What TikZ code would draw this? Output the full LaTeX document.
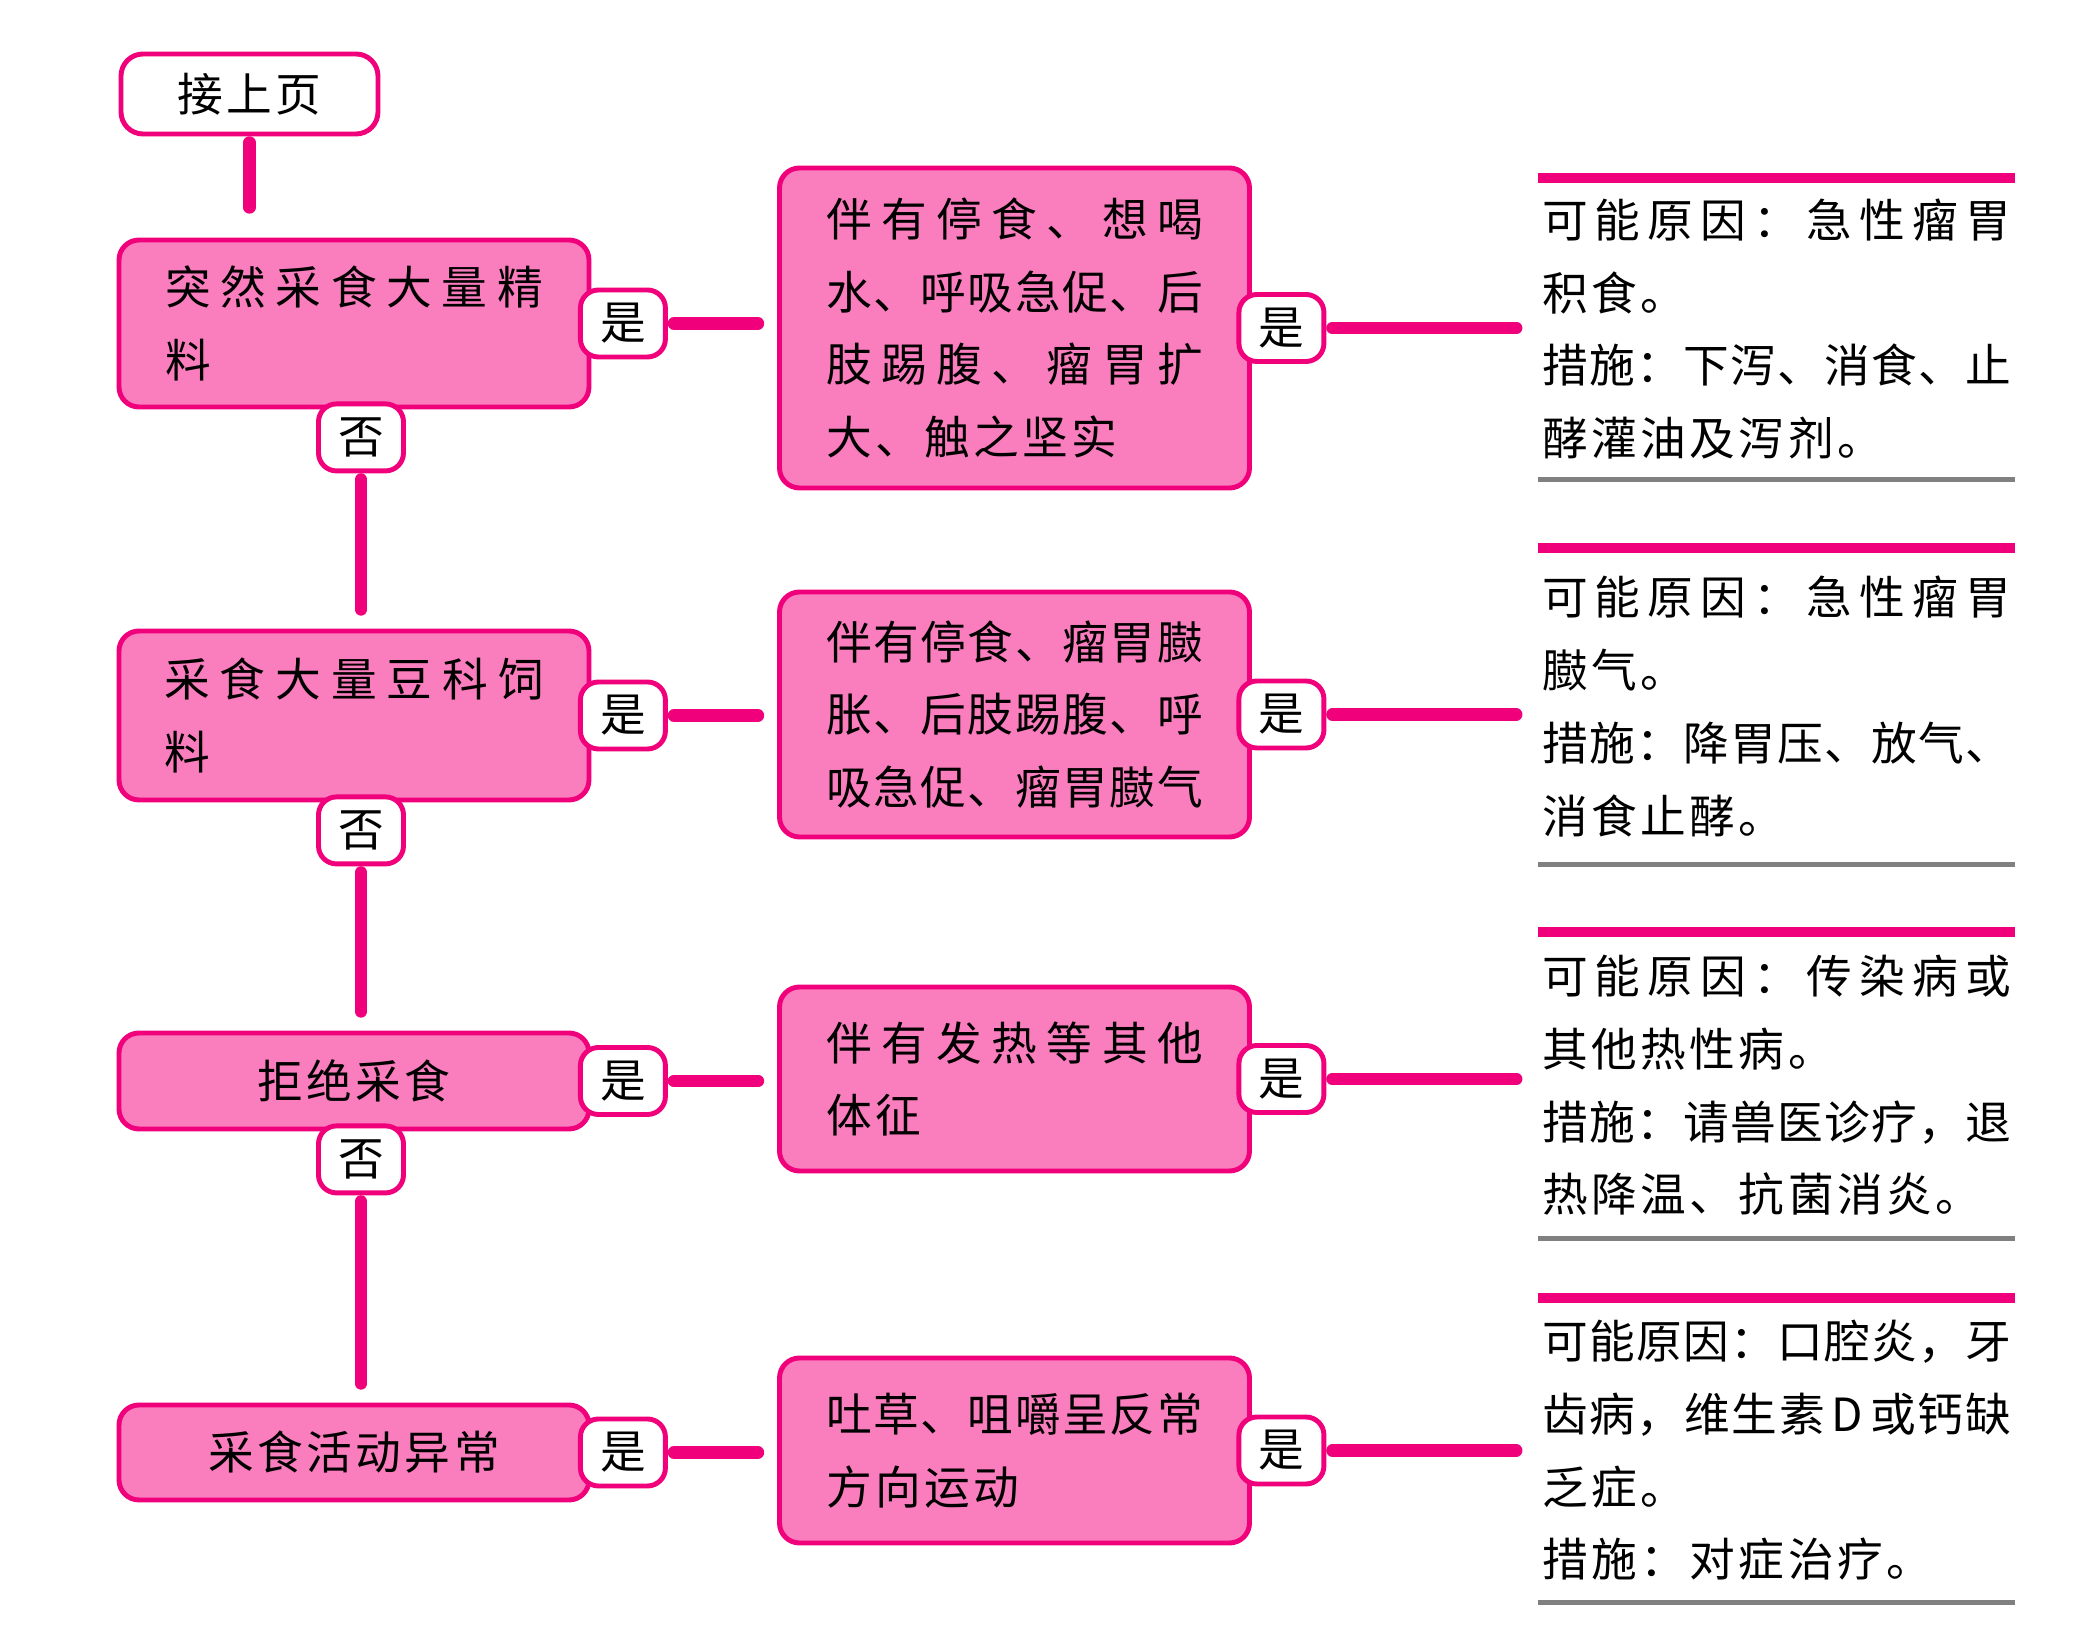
\documentclass[tikz,border=0pt]{standalone}
\usepackage{fontspec}
\setmainfont{Noto Sans CJK SC}
\usetikzlibrary{positioning}
\definecolor{boxpink}{RGB}{250,125,190}
\definecolor{linepink}{RGB}{240,0,122}
\definecolor{bargrey}{RGB}{128,128,128}
% glue between CJK characters, so that lines can be spread to a width
\XeTeXinterchartokenstate=1
\newcount\cjkcode
\cjkcode="4E00
\loop \XeTeXcharclass\cjkcode=1 \advance\cjkcode by 1 \ifnum\cjkcode<"A000 \repeat
\XeTeXcharclass"3001=1 \XeTeXcharclass"3002=1 \XeTeXcharclass"FF0C=1 \XeTeXcharclass"FF1A=1
\XeTeXinterchartoks 1 1 = {\hskip 1pt plus 1pt minus 1pt\relax}
\XeTeXinterchartoks 0 1 = {\hskip 3pt plus 1pt minus 2pt\relax}
\XeTeXinterchartoks 1 0 = {\hskip 3pt plus 1pt minus 2pt\relax}
\newcommand{\jl}[2]{\makebox[#1][s]{#2}}
\hbadness=10000
\begin{document}
\begin{tikzpicture}[font=\fontsize{13pt}{20.7pt}\selectfont, line join=round, line cap=round,
  box/.style={draw=linepink, fill=boxpink, line width=1.4pt, rounded corners=0.2cm, minimum width=4.7cm, align=left, inner sep=0pt},
  lbl/.style={draw=linepink, fill=white, line width=1.4pt, rounded corners=0.18cm, minimum width=0.85cm, minimum height=0.67cm, inner sep=0pt},
  cause/.style={minimum width=4.75cm, align=left, inner sep=0pt},
  link/.style={draw=linepink, line width=3.5pt, shorten <=0.06cm},
  topbar/.style={draw=linepink, line width=0.1cm, line cap=butt},
  botbar/.style={draw=bargrey, line width=0.05cm, line cap=butt}]
\useasboundingbox (0,0) rectangle (20.8,-16.32);
% left column
\node[lbl, minimum width=2.57cm, minimum height=0.8cm, rounded corners=0.22cm] (prev) at (2.495,-0.94) {接上页};
\node[box, minimum height=1.67cm] (feed1) at (3.54,-3.235) {\jl{3.78cm}{突然采食大量精}\\料};
\node[box, minimum height=1.69cm] (feed2) at (3.54,-7.155) {\jl{3.8cm}{采食大量豆科饲}\\料};
\node[box, minimum height=0.96cm] (feed3) at (3.54,-10.81) {拒绝采食};
\node[box, minimum height=0.95cm] (feed4) at (3.54,-14.525) {采食活动异常};
\node[lbl, right=-0.135cm of feed1.east] (yes1) {是};
\node[lbl, right=-0.135cm of feed2.east] (yes2) {是};
\node[lbl, right=-0.135cm of feed3.east] (yes3) {是};
\node[lbl, right=-0.135cm of feed4.east] (yes4) {是};
\node[lbl, below=-0.08cm of feed1.south, xshift=0.07cm] (no1) {否};
\node[lbl, below=-0.08cm of feed2.south, xshift=0.07cm] (no2) {否};
\node[lbl, below=-0.08cm of feed3.south, xshift=0.07cm] (no3) {否};
% middle column
\node[box, minimum height=3.2cm] (sign1) at (10.145,-3.28) {\jl{3.77cm}{伴有停食、想喝}\\\jl{3.77cm}{水、呼吸急促、后}\\\jl{3.77cm}{肢踢腹、瘤胃扩}\\大、触之坚实};
\node[box, minimum height=2.45cm] (sign2) at (10.145,-7.145) {\jl{3.77cm}{伴有停食、瘤胃臌}\\\jl{3.77cm}{胀、后肢踢腹、呼}\\\jl{3.77cm}{吸急促、瘤胃臌气}};
\node[box, minimum height=1.84cm] (sign3) at (10.145,-10.79) {\jl{3.77cm}{伴有发热等其他}\\体征};
\node[box, minimum height=1.85cm] (sign4) at (10.145,-14.505) {\jl{3.77cm}{吐草、咀嚼呈反常}\\方向运动};
\node[lbl, right=-0.155cm of sign1.east] (ok1) {是};
\node[lbl, right=-0.155cm of sign2.east] (ok2) {是};
\node[lbl, right=-0.155cm of sign3.east] (ok3) {是};
\node[lbl, right=-0.155cm of sign4.east] (ok4) {是};
% right column
\node[cause, minimum height=3.0cm] (cause1) at (17.765,-3.29) {\jl{4.69cm}{可能原因：急性瘤胃}\\积食。\\\jl{4.69cm}{措施：下泻、消食、止}\\酵灌油及泻剂。};
\node[cause, minimum height=3.15cm] (cause2) at (17.765,-7.065) {\jl{4.69cm}{可能原因：急性瘤胃}\\臌气。\\\jl{4.69cm}{措施：降胃压、放气、}\\消食止酵。};
\node[cause, minimum height=3.05cm] (cause3) at (17.765,-10.855) {\jl{4.69cm}{可能原因：传染病或}\\其他热性病。\\\jl{4.69cm}{措施：请兽医诊疗，退}\\热降温、抗菌消炎。};
\node[cause, minimum height=3.03cm] (cause4) at (17.765,-14.505) {\jl{4.69cm}{可能原因：口腔炎，牙}\\\jl{4.69cm}{齿病，维生素D或钙缺}\\乏症。\\措施：对症治疗。};
\draw[topbar] (cause1.north west) -- (cause1.north east);
\draw[botbar] (cause1.south west) -- (cause1.south east);
\draw[topbar] (cause2.north west) -- (cause2.north east);
\draw[botbar] (cause2.south west) -- (cause2.south east);
\draw[topbar] (cause3.north west) -- (cause3.north east);
\draw[botbar] (cause3.south west) -- (cause3.south east);
\draw[topbar] (cause4.north west) -- (cause4.north east);
\draw[botbar] (cause4.south west) -- (cause4.south east);
% connectors
\draw[link, shorten >=0.3cm] (prev.south) -- (prev.south |- feed1.north);
\draw[link, shorten >=0.19cm] (no1.south) -- (no1.south |- feed2.north);
\draw[link, shorten >=0.19cm] (no2.south) -- (no2.south |- feed3.north);
\draw[link, shorten >=0.19cm] (no3.south) -- (no3.south |- feed4.north);
\draw[link, shorten >=0.19cm] (yes1.east) -- (yes1.east -| sign1.west);
\draw[link, shorten >=0.19cm] (yes2.east) -- (yes2.east -| sign2.west);
\draw[link, shorten >=0.19cm] (yes3.east) -- (yes3.east -| sign3.west);
\draw[link, shorten >=0.19cm] (yes4.east) -- (yes4.east -| sign4.west);
\draw[link, shorten >=0.22cm] (ok1.east) -- (ok1.east -| cause1.west);
\draw[link, shorten >=0.22cm] (ok2.east) -- (ok2.east -| cause2.west);
\draw[link, shorten >=0.22cm] (ok3.east) -- (ok3.east -| cause3.west);
\draw[link, shorten >=0.22cm] (ok4.east) -- (ok4.east -| cause4.west);
\end{tikzpicture}
\end{document}
